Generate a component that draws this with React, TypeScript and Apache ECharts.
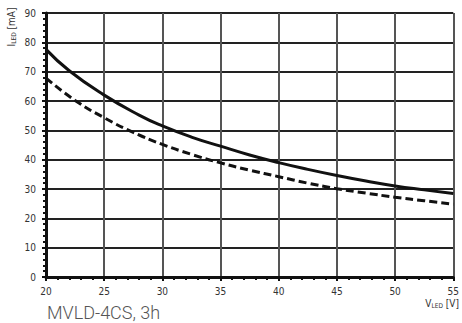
import React, { useEffect, useRef } from "react";
import * as echarts from "echarts";

const solidVoltage = [20, 22, 25, 28, 30, 32.5, 35, 37.5, 40, 42.5, 45, 47.5, 50, 52.5, 55];
const solidCurrent = [77.6, 70.3, 62.0, 55.2, 51.5, 47.7, 44.6, 41.6, 39.0, 36.7, 34.6, 32.7, 31.0, 29.7, 28.5];
const dashedVoltage = [20, 22.5, 25, 27.5, 30, 32.5, 35, 37.5, 40, 42.5, 45, 47.5, 50, 52.5, 55];
const dashedCurrent = [67.8, 60.2, 54.3, 49.3, 45.2, 41.8, 38.9, 36.4, 34.2, 32.0, 30.1, 28.6, 27.2, 26.0, 24.8];
const caption = "MVLD-4CS, 3h";

const labelFont = "'Liberation Sans Narrow', 'DejaVu Sans Condensed', 'Roboto Condensed', sans-serif";

export default function App() {
  const ref = useRef<HTMLDivElement>(null);
  useEffect(() => {
    if (!ref.current) return;
    const chart = echarts.init(ref.current, undefined, { renderer: "svg" });
    chart.setOption({
      animation: false,
      backgroundColor: "#ffffff",
      grid: { left: 46, right: 7, top: 13, bottom: 46, containLabel: false },
      xAxis: {
        type: "value",
        min: 20,
        max: 55,
        interval: 5,
        axisLine: { show: true, onZero: false, lineStyle: { color: "#111", width: 3 } },
        axisTick: { show: true, length: 4, lineStyle: { color: "#111", width: 2 } },
        minorTick: { show: true, splitNumber: 5, length: 3, lineStyle: { color: "#111", width: 2 } },
        splitLine: { show: true, lineStyle: { color: "#555", width: 2 } },
        axisLabel: { fontFamily: labelFont, fontSize: 10, color: "#333", margin: 9 },
      },
      yAxis: {
        type: "value",
        min: 0,
        max: 90,
        interval: 10,
        axisLine: { show: true, onZero: false, lineStyle: { color: "#111", width: 3 } },
        axisTick: { show: true, length: 4, lineStyle: { color: "#111", width: 2 } },
        minorTick: { show: true, splitNumber: 5, length: 3, lineStyle: { color: "#111", width: 2 } },
        splitLine: { show: true, lineStyle: { color: "#222", width: 2 } },
        axisLabel: { fontFamily: labelFont, fontSize: 10, color: "#333", margin: 10 },
      },
      series: [
        {
          type: "line",
          data: solidVoltage.map((v, i) => [v, solidCurrent[i]]),
          smooth: 0.5,
          symbol: "none",
          lineStyle: { color: "#111", width: 3 },
        },
        {
          type: "line",
          data: dashedVoltage.map((v, i) => [v, dashedCurrent[i]]),
          smooth: 0.5,
          symbol: "none",
          lineStyle: { color: "#111", width: 3, type: [8, 4] },
        },
      ],
      graphic: [
        {
          type: "group",
          x: 11,
          y: 27,
          rotation: Math.PI / 2,
          children: [
            {
              type: "text",
              x: 0,
              y: 0,
              style: {
                text: "{m|I}{s|LED}{m| [mA]}",
                align: "center",
                verticalAlign: "middle",
                rich: {
                  m: { fontFamily: labelFont, fontSize: 10, fill: "#333" },
                  s: { fontFamily: labelFont, fontSize: 6.5, fill: "#333", padding: [6, 0, 0, 0] },
                },
              },
            },
          ],
        },
        {
          type: "text",
          x: 459,
          y: 303,
          style: {
            text: "{m|V}{s|LED}{m| [V]}",
            align: "right",
            verticalAlign: "middle",
            rich: {
              m: { fontFamily: labelFont, fontSize: 10, fill: "#333" },
              s: { fontFamily: labelFont, fontSize: 6.5, fill: "#333", padding: [6, 0, 0, 0] },
            },
          },
        },
        {
          type: "text",
          x: 47,
          y: 312,
          style: {
            text: caption,
            fontFamily: "Roboto, 'Liberation Sans', sans-serif",
            fontWeight: 300,
            fontSize: 18,
            fill: "#555",
            align: "left",
            verticalAlign: "middle",
          },
        },
      ],
    });
    return () => chart.dispose();
  }, []);
  return <div ref={ref} style={{ width: 462, height: 323, position: "absolute", left: 0, top: 0 }} />;
}
